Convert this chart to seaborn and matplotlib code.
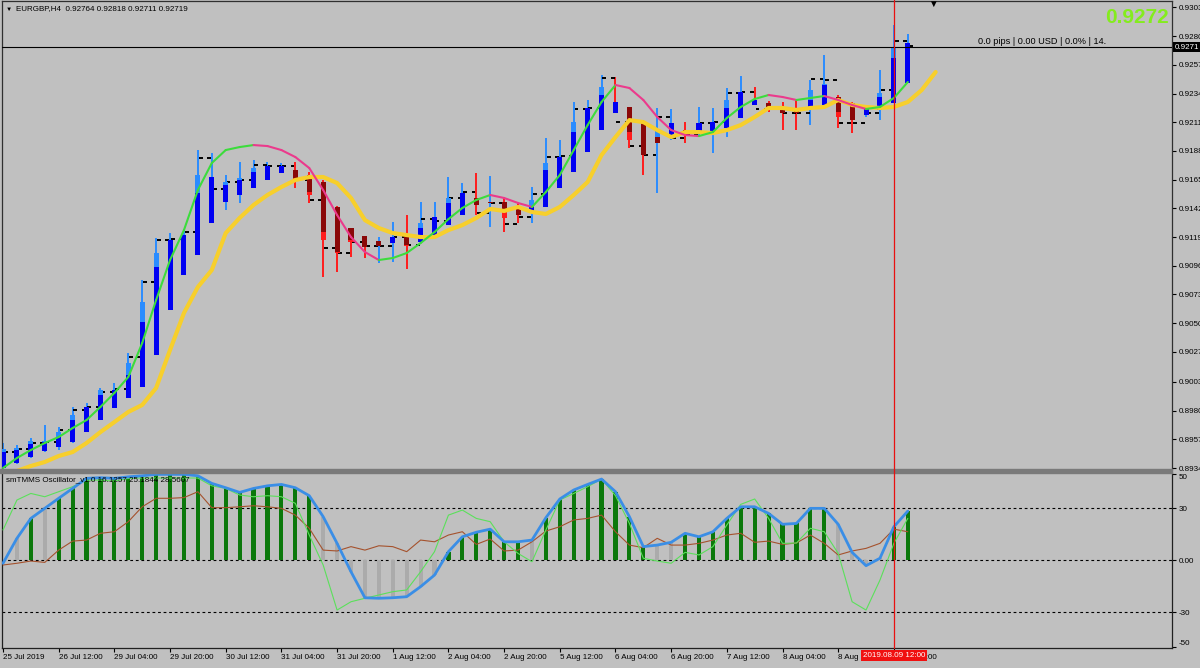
import numpy as np
import pandas as pd
import matplotlib
matplotlib.use('Agg')
import matplotlib.pyplot as plt
import matplotlib.transforms as mtransforms
from matplotlib.collections import LineCollection
from matplotlib.lines import Line2D
from matplotlib.patches import Rectangle
import seaborn as sns

# --- EURGBP H4, 66 bars -------------------------------------------------
time_labels = ["25 Jul 2019", "26 Jul 12:00", "29 Jul 04:00", "29 Jul 20:00", "30 Jul 12:00",
               "31 Jul 04:00", "31 Jul 20:00", "1 Aug 12:00", "2 Aug 04:00", "2 Aug 20:00",
               "5 Aug 12:00", "6 Aug 04:00", "6 Aug 20:00", "7 Aug 12:00", "8 Aug 04:00",
               "8 Aug 20:00", "9 Aug 12:00"]

high = [0.89540, 0.89524, 0.89580, 0.89684, 0.89668, 0.89829, 0.89861, 0.89981, 0.90021, 0.90261,
        0.90846, 0.91182, 0.91222, 0.91246, 0.91887, 0.91863, 0.91687, 0.91791, 0.91807, 0.91791,
        0.91783, 0.91791, 0.91711, 0.91647, 0.91439, 0.91262, 0.91198, 0.91190, 0.91310, 0.91367,
        0.91471, 0.91471, 0.91671, 0.91623, 0.91703, 0.91679, 0.91511, 0.91463, 0.91591, 0.91983,
        0.91967, 0.92272, 0.92288, 0.92488, 0.92472, 0.92232, 0.92127, 0.92224, 0.92216, 0.92111,
        0.92232, 0.92224, 0.92384, 0.92480, 0.92392, 0.92280, 0.92272, 0.92288, 0.92448, 0.92648,
        0.92328, 0.92272, 0.92240, 0.92528, 0.92888, 0.92818]
low = [0.89324, 0.89372, 0.89420, 0.89468, 0.89484, 0.89540, 0.89628, 0.89724, 0.89821, 0.89901,
       0.89989, 0.90245, 0.90606, 0.90886, 0.91046, 0.91302, 0.91407, 0.91463, 0.91583, 0.91647,
       0.91703, 0.91583, 0.91463, 0.90870, 0.90910, 0.91030, 0.91022, 0.90982, 0.90990, 0.90934,
       0.91142, 0.91206, 0.91286, 0.91367, 0.91367, 0.91270, 0.91230, 0.91302, 0.91302, 0.91431,
       0.91583, 0.91711, 0.91871, 0.92047, 0.92184, 0.91903, 0.91687, 0.91543, 0.91967, 0.91943,
       0.92007, 0.91863, 0.91991, 0.92144, 0.92248, 0.92192, 0.92047, 0.92047, 0.92087, 0.92248,
       0.92063, 0.92023, 0.92152, 0.92127, 0.92264, 0.92424]
# smoothed candle body (light colour)
sm_open = [0.89340, 0.89380, 0.89428, 0.89476, 0.89508, 0.89548, 0.89628, 0.89724, 0.89821, 0.89901,
           0.89989, 0.90245, 0.90606, 0.90886, 0.91046, 0.91302, 0.91471, 0.91527, 0.91583, 0.91647,
           0.91703, 0.91727, 0.91687, 0.91631, 0.91431, 0.91262, 0.91198, 0.91118, 0.91142, 0.91190,
           0.91150, 0.91206, 0.91286, 0.91367, 0.91503, 0.91463, 0.91471, 0.91423, 0.91391, 0.91431,
           0.91583, 0.91711, 0.91871, 0.92047, 0.92272, 0.92232, 0.92111, 0.91943, 0.92007, 0.92047,
           0.92031, 0.92023, 0.92063, 0.92144, 0.92288, 0.92264, 0.92224, 0.92224, 0.92224, 0.92248,
           0.92312, 0.92264, 0.92168, 0.92208, 0.92264, 0.92424]
sm_close = [0.89492, 0.89500, 0.89556, 0.89556, 0.89628, 0.89765, 0.89829, 0.89965, 0.89965, 0.90181,
            0.90670, 0.91062, 0.91166, 0.91206, 0.91687, 0.91671, 0.91631, 0.91663, 0.91743, 0.91759,
            0.91759, 0.91647, 0.91527, 0.91166, 0.91062, 0.91150, 0.91110, 0.91158, 0.91190, 0.91118,
            0.91302, 0.91351, 0.91503, 0.91543, 0.91447, 0.91471, 0.91343, 0.91367, 0.91487, 0.91783,
            0.91831, 0.92111, 0.92224, 0.92392, 0.92184, 0.91967, 0.91847, 0.92047, 0.92103, 0.92015,
            0.92103, 0.92111, 0.92288, 0.92352, 0.92248, 0.92232, 0.92184, 0.92184, 0.92368, 0.92416,
            0.92152, 0.92127, 0.92216, 0.92344, 0.92704, 0.92744]
# heiken ashi body (dark colour)
ha_open = [0.89340, 0.89380, 0.89428, 0.89476, 0.89508, 0.89548, 0.89628, 0.89724, 0.89821, 0.89901,
           0.89989, 0.90245, 0.90606, 0.90886, 0.91046, 0.91302, 0.91471, 0.91527, 0.91583, 0.91647,
           0.91703, 0.91727, 0.91687, 0.91631, 0.91431, 0.91262, 0.91198, 0.91158, 0.91142, 0.91190,
           0.91150, 0.91206, 0.91286, 0.91367, 0.91503, 0.91471, 0.91471, 0.91423, 0.91391, 0.91431,
           0.91583, 0.91711, 0.91871, 0.92047, 0.92184, 0.92232, 0.92111, 0.91991, 0.92007, 0.92047,
           0.92031, 0.92023, 0.92063, 0.92144, 0.92248, 0.92264, 0.92224, 0.92224, 0.92224, 0.92248,
           0.92312, 0.92264, 0.92168, 0.92208, 0.92264, 0.92424]
ha_close = [0.89468, 0.89484, 0.89532, 0.89548, 0.89588, 0.89724, 0.89829, 0.89925, 0.89965, 0.90085,
            0.90509, 0.90950, 0.91166, 0.91206, 0.91543, 0.91671, 0.91607, 0.91647, 0.91711, 0.91759,
            0.91759, 0.91663, 0.91551, 0.91230, 0.91070, 0.91166, 0.91110, 0.91118, 0.91190, 0.91126,
            0.91262, 0.91351, 0.91463, 0.91543, 0.91447, 0.91463, 0.91407, 0.91367, 0.91431, 0.91727,
            0.91831, 0.92031, 0.92224, 0.92328, 0.92272, 0.92031, 0.91847, 0.91943, 0.92103, 0.92015,
            0.92103, 0.92111, 0.92224, 0.92352, 0.92288, 0.92232, 0.92184, 0.92184, 0.92288, 0.92408,
            0.92192, 0.92127, 0.92216, 0.92312, 0.92624, 0.92744]
# real close (black ticks)
close = [0.89468, 0.89492, 0.89540, 0.89548, 0.89644, 0.89805, 0.89829, 0.89949, 0.89973, 0.90229,
         0.90830, 0.91166, 0.91174, 0.91230, 0.91823, 0.91575, 0.91631, 0.91647, 0.91767, 0.91759,
         0.91759, 0.91647, 0.91487, 0.91102, 0.91062, 0.91150, 0.91118, 0.91118, 0.91190, 0.91126,
         0.91334, 0.91318, 0.91503, 0.91551, 0.91383, 0.91463, 0.91294, 0.91351, 0.91535, 0.91831,
         0.91839, 0.92216, 0.92224, 0.92464, 0.92111, 0.91919, 0.91847, 0.92152, 0.91983, 0.92015,
         0.92103, 0.92111, 0.92344, 0.92352, 0.92216, 0.92232, 0.92184, 0.92184, 0.92456, 0.92448,
         0.92103, 0.92103, 0.92184, 0.92368, 0.92764, 0.92719]

fast_ma = [0.89340, 0.89420, 0.89484, 0.89540, 0.89588, 0.89660, 0.89724, 0.89829, 0.89941, 0.90069,
           0.90341, 0.90686, 0.91006, 0.91246, 0.91567, 0.91783, 0.91887, 0.91911, 0.91927, 0.91919,
           0.91887, 0.91831, 0.91743, 0.91567, 0.91367, 0.91190, 0.91070, 0.91006, 0.91022, 0.91062,
           0.91142, 0.91230, 0.91334, 0.91423, 0.91487, 0.91527, 0.91503, 0.91463, 0.91431, 0.91551,
           0.91687, 0.91887, 0.92087, 0.92272, 0.92408, 0.92384, 0.92288, 0.92152, 0.92047, 0.92007,
           0.91999, 0.92031, 0.92144, 0.92232, 0.92296, 0.92328, 0.92312, 0.92288, 0.92304, 0.92320,
           0.92288, 0.92248, 0.92216, 0.92232, 0.92304, 0.92432]
# slow MA, bars 1..67 (shifted forward)
slow_ma = [0.89316, 0.89356, 0.89388, 0.89436, 0.89468, 0.89540, 0.89628, 0.89708, 0.89789, 0.89845,
           0.89981, 0.90285, 0.90582, 0.90790, 0.90926, 0.91222, 0.91343, 0.91447, 0.91527, 0.91591,
           0.91647, 0.91671, 0.91671, 0.91623, 0.91503, 0.91326, 0.91262, 0.91222, 0.91206, 0.91190,
           0.91190, 0.91246, 0.91286, 0.91343, 0.91415, 0.91399, 0.91431, 0.91391, 0.91375, 0.91431,
           0.91527, 0.91631, 0.91847, 0.91991, 0.92127, 0.92111, 0.92047, 0.91991, 0.92031, 0.92031,
           0.92023, 0.92047, 0.92087, 0.92152, 0.92224, 0.92224, 0.92208, 0.92224, 0.92232, 0.92288,
           0.92248, 0.92232, 0.92224, 0.92232, 0.92272, 0.92368, 0.92512]

price_ticks = [0.8934, 0.8957, 0.8980, 0.9003, 0.9027, 0.9050, 0.9073, 0.9096, 0.9119,
               0.9142, 0.9165, 0.9188, 0.9211, 0.9234, 0.9257, 0.9280, 0.9303]
last_price = 0.92710

# --- smTMMS oscillator ---------------------------------------------------
osc_hist = [-1.7, 12.7, 24.2, 30.0, 35.8, 41.5, 47.3, 47.7, 47.3, 48.2,
            48.8, 49.6, 49.6, 49.6, 48.8, 44.4, 41.9, 39.2, 41.5, 43.0,
            43.8, 41.9, 37.3, 25.2, 9.8, -6.6, -21.6, -21.9, -21.6, -21.0,
            -15.2, -8.5, 5.0, 13.6, 16.2, 18.0, 10.7, 10.7, 11.7, 24.6,
            35.4, 40.6, 43.8, 46.9, 39.6, 25.2, 7.9, 8.8, 10.4, 15.6,
            13.6, 16.5, 24.2, 30.9, 30.9, 27.1, 20.8, 21.3, 30.0, 30.0,
            20.8, 4.6, -3.1, 1.2, 19.4, 28.4]
hist_state = ("ssgs" "ggggggggggggggggggg" "sssssssss" "gggggg" "s" "gggggggg"
              "ss" "ggggggggggg" "ssss" "gg")
osc_fast = [17.5, 34.8, 38.6, 36.7, 39.6, 42.5, 46.3, 46.3, 45.7, 47.3,
            47.5, 47.5, 47.5, 47.5, 47.5, 43.0, 41.5, 37.7, 36.7, 37.3,
            36.7, 32.9, 14.6, -2.7, -28.7, -23.9, -21.9, -20.0, -18.1, -17.1,
            -6.6, 5.0, 26.1, 29.0, 24.2, 22.3, 10.7, 4.0, -0.8, 17.5,
            34.8, 38.6, 42.5, 46.9, 37.3, 21.3, 1.2, -0.4, -1.7, 4.6,
            3.1, 7.9, 20.4, 32.3, 35.4, 24.2, 9.8, 10.0, 18.5, 16.5,
            4.0, -23.9, -28.7, -11.4, 9.8, 24.2]
osc_slow = [-2.7, -1.7, -0.4, -1.2, 5.9, 11.1, 11.7, 15.6, 16.5, 22.3,
            30.9, 35.8, 35.8, 36.2, 39.6, 30.4, 30.4, 30.9, 31.5, 30.9,
            30.0, 26.1, 18.5, 5.9, 5.4, 7.9, 5.9, 8.4, 7.9, 5.0,
            11.7, 10.7, 14.6, 16.5, 9.2, 12.3, 5.4, 5.9, 10.7, 16.9,
            19.4, 23.3, 24.2, 26.1, 16.5, 8.8, 7.3, 12.7, 8.8, 8.8,
            9.8, 11.7, 14.6, 15.6, 10.4, 11.1, 9.2, 10.0, 14.6, 9.8,
            3.1, 5.4, 6.9, 9.8, 18.0, 16.5]
osc_levels = [30, 0, -30]
osc_ticks = [50, 30, 0, -30, -50]
osc_tick_labels = ['50', '30', '0.00', '-30', '-50']
cursor_bar = 64
cursor_label = '2019.08.09 12:00'

BG = '#C0C0C0'
sns.set_style('ticks', {'axes.facecolor': BG, 'figure.facecolor': BG})
plt.rcParams['font.family'] = ['Liberation Sans', 'DejaVu Sans']
FS = 5.8

W, H = 1200, 668


def px_rect(x0, y0, x1, y1):
    return [x0 / W, 1 - y1 / H, (x1 - x0) / W, (y1 - y0) / H]


fig = plt.figure(figsize=(12, 6.68), dpi=100)
fig.set_facecolor(BG)
ax = fig.add_axes(px_rect(2, 1, 1172, 469))
osc = fig.add_axes(px_rect(2, 473, 1172, 648))

bars = np.arange(len(close))
step = 13.92
x_lim = ((2 - 3) / step, (1172 - 3) / step)

# --- price panel ---------------------------------------------------------
sm_o, sm_c = np.array(sm_open), np.array(sm_close)
ha_o, ha_c = np.array(ha_open), np.array(ha_close)
cl = np.array(close)
wick_col = np.where(sm_c >= sm_o, '#2A8CFF', '#FF1C1C')
ha_col = np.where(ha_c >= ha_o, '#0000F2', '#8A0808')

ax.vlines(bars, low, high, colors=wick_col, lw=1.4, zorder=2)
opens = np.r_[cl[0], cl[:-1]]
ax.hlines(opens, bars - 0.34, bars - 0.06, color='black', lw=1.4, zorder=2)
ax.hlines(cl, bars + 0.06, bars + 0.34, color='black', lw=1.4, zorder=2)
ax.bar(bars, sm_c - sm_o, bottom=sm_o, width=0.36, color=wick_col, lw=0, zorder=3)
ax.bar(bars, ha_c - ha_o, bottom=ha_o, width=0.36, color=ha_col, lw=0, zorder=4)

slow_df = pd.DataFrame({'bar': np.arange(1, len(slow_ma) + 1), 'ma': slow_ma})
sns.lineplot(data=slow_df, x='bar', y='ma', ax=ax, color='#F7CF2C', lw=3.0,
             zorder=5, legend=False)

fm = np.array(fast_ma)
segs = [[(i - 1, fm[i - 1]), (i, fm[i])] for i in range(1, len(fm))]
seg_col = ['#EB3A8C' if fm[i] < fm[i - 1] else '#3CDC3C' for i in range(1, len(fm))]
ax.add_collection(LineCollection(segs, colors=seg_col, linewidths=1.5,
                                 capstyle='round', zorder=6))

ax.axhline(last_price, color='black', lw=0.8, zorder=7)
ax.set_xlim(*x_lim)
ax.set_ylim(0.89332, 0.93081)
ax.set_xticks([])
ax.yaxis.tick_right()
ax.set_yticks(price_ticks)
ax.set_yticklabels([f'{v:.4f}' for v in price_ticks])
ax.tick_params(axis='y', length=3, width=0.8, pad=2, labelsize=FS, colors='black')
ax.set_xlabel('')
ax.set_ylabel('')
for side in ['left', 'top', 'right']:
    ax.spines[side].set_color('#303030')
    ax.spines[side].set_linewidth(0.9)
ax.spines['bottom'].set_visible(False)

ybl = mtransforms.blended_transform_factory(ax.transAxes, ax.transData)
ax.text(1.0 + 3 / 1170, last_price, f'{last_price:.4f}', transform=ybl, ha='left',
        va='center', color='white', fontsize=FS,
        bbox=dict(boxstyle='square,pad=0.2', fc='black', ec='none'), clip_on=False, zorder=9)

# --- oscillator panel ----------------------------------------------------
hist_col = ['#0B780B' if s == 'g' else '#ABABAB' for s in hist_state]
osc.bar(bars, osc_hist, width=0.3, color=hist_col, lw=0, zorder=2)
for lvl in osc_levels:
    osc.axhline(lvl, color='black', lw=0.8, ls=(0, (2.5, 2.5)), zorder=1)

osc_df = pd.DataFrame({'bar': bars, 'hist': osc_hist, 'fast': osc_fast, 'slow': osc_slow})
sns.lineplot(data=osc_df, x='bar', y='slow', ax=osc, color='#A5522D', lw=0.8, zorder=3)
sns.lineplot(data=osc_df, x='bar', y='fast', ax=osc, color='#5BE05B', lw=0.8, zorder=4)
sns.lineplot(data=osc_df, x='bar', y='hist', ax=osc, color='#3A8EE6', lw=2.0, zorder=5)

osc.set_xlim(*x_lim)
osc.set_ylim(-50.6, 50.4)
osc.yaxis.tick_right()
osc.set_yticks(osc_ticks)
osc.set_yticklabels(osc_tick_labels)
ylabs = osc.get_yticklabels()
ylabs[0].set_verticalalignment('top')
ylabs[-1].set_verticalalignment('bottom')
tick_bars = bars[::4]
osc.set_xticks(tick_bars)
osc.set_xticklabels(time_labels[:len(tick_bars)])
for lab in osc.get_xticklabels():
    lab.set_horizontalalignment('left')
osc.tick_params(axis='y', length=3, width=0.8, pad=2, labelsize=FS, colors='black')
osc.tick_params(axis='x', length=3, width=0.8, pad=1, labelsize=FS, colors='black')
osc.set_xlabel('')
osc.set_ylabel('')
for side in ['left', 'bottom', 'right']:
    osc.spines[side].set_color('#202020')
    osc.spines[side].set_linewidth(0.9)
osc.spines['top'].set_visible(False)

# --- separator, cursor, labels ------------------------------------------
fig.patches.append(Rectangle((0, 1 - 473 / H), 1172 / W, 4 / H, transform=fig.transFigure,
                             color='#7A7A7A', zorder=1))
xbl = mtransforms.blended_transform_factory(ax.transData, fig.transFigure)
fig.lines.append(Line2D([cursor_bar, cursor_bar], [20 / H, 1], transform=xbl,
                        color='#E81010', lw=0.9, zorder=3))
fig.text(cursor_bar, 1 - 655.5 / H, cursor_label, transform=xbl, ha='center', va='center',
         color='white', fontsize=FS, zorder=4,
         bbox=dict(boxstyle='square,pad=0.25', fc='#F01010', ec='none'))

fig.text(6 / W, 1 - 9 / H, '\u25bc', fontsize=4.5, va='center', color='black')
fig.text(16 / W, 1 - 9 / H, 'EURGBP,H4  0.92764 0.92818 0.92711 0.92719',
         fontsize=FS, va='center', color='black')
fig.text(933 / W, 1 - 4 / H, '\u25bc', fontsize=7, ha='center', va='center', color='black')
fig.text(1169 / W, 1 - 17.5 / H, '0.9272', fontsize=15, fontweight='bold', ha='right',
         va='center', color='#84EC1E')
fig.text(978 / W, 1 - 41.5 / H, '0.0 pips | 0.00 USD | 0.0% | 14.', fontsize=6.6,
         va='center', color='black')
fig.text(6 / W, 1 - 480 / H, 'smTMMS Oscillator_v1.0 16.1257 25.1844 28.5607',
         fontsize=FS, va='center', color='black')

fig.savefig('out.png', dpi=100, facecolor=BG)
